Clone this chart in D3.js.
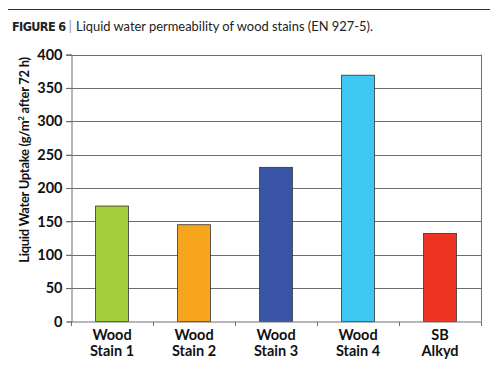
<!DOCTYPE html>
<html><head><meta charset="utf-8">
<script src="https://cdn.jsdelivr.net/npm/d3@7"></script>
<style>body{margin:0;background:#fff}svg{display:block}</style>
</head><body><svg id="c" width="500" height="375"></svg>
<script>
const categories = [["Wood","Stain 1"],["Wood","Stain 2"],["Wood","Stain 3"],["Wood","Stain 4"],["SB","Alkyd"]];
const values = [173, 145, 231, 369, 132];
const colors = ["#a5cd39","#f8a51e","#3a55a5","#3cc8f1","#ee3524"];
const yTicks = [0,50,100,150,200,250,300,350,400];

const svg = d3.select("#c");
const m = {l:71, r:481, t:54.5, b:321.5};
const x = d3.scaleBand().domain(d3.range(categories.length)).range([m.l, m.r]).paddingInner(0.6).paddingOuter(0.3);
const xb = d3.scaleBand().domain(d3.range(categories.length)).range([m.l, m.r]);
const y = d3.scaleLinear().domain([0,400]).range([m.b, m.t]);
const font = "Lato, 'Open Sans', sans-serif";

// title rule and title
svg.append("line").attr("x1",8).attr("x2",490).attr("y1",9.5).attr("y2",9.5).attr("stroke","#333").attr("stroke-width",1);
const tt = svg.append("text").attr("x",12).attr("y",31).attr("fill","#222");
tt.append("tspan").attr("font-family","'DejaVu Sans Condensed', 'DejaVu Sans', sans-serif")
  .attr("font-weight","bold").attr("font-size",12.5).attr("letter-spacing",-0.6).text("FIGURE 6");
tt.append("tspan").attr("font-family",font).attr("font-size",14).attr("fill","#999").attr("dx",3).attr("letter-spacing",0).text("|");
tt.append("tspan").attr("font-family",font).attr("font-size",13.5).attr("dx",4)
  .attr("textLength",297).attr("lengthAdjust","spacingAndGlyphs").text("Liquid water permeability of wood stains (EN 927-5).");

// gridlines
svg.append("g").selectAll("line").data(yTicks.filter(d=>d>0)).join("line")
  .attr("x1",m.l-5).attr("x2",m.r).attr("y1",d=>Math.round(y(d))+0.5).attr("y2",d=>Math.round(y(d))+0.5)
  .attr("stroke","#6e6e6e").attr("stroke-width",1);
// right border
svg.append("line").attr("x1",m.r+0.5).attr("x2",m.r+0.5).attr("y1",m.t).attr("y2",m.b).attr("stroke","#6e6e6e");

// bars
svg.append("g").selectAll("rect").data(values).join("rect")
  .attr("x",(d,i)=>x(i)).attr("width",x.bandwidth())
  .attr("y",d=>y(d)).attr("height",d=>y(0)-y(d))
  .attr("fill",(d,i)=>colors[i]).attr("stroke","#333").attr("stroke-width",0.8);

// y axis
const ya = d3.axisLeft(y).tickValues(yTicks).tickSize(5).tickPadding(4);
const gy = svg.append("g").attr("transform",`translate(${m.l+0.5},0)`).call(ya);
gy.select(".domain").attr("stroke","#6e6e6e");
gy.selectAll(".tick line").attr("stroke","#6e6e6e");
gy.selectAll("text").attr("font-family",font).attr("font-weight","bold").attr("font-size",14.5).attr("fill","#111");

// x axis
const gx = svg.append("g").attr("transform",`translate(0,${m.b+0.5})`);
gx.append("line").attr("x1",m.l).attr("x2",m.r+0.5).attr("stroke","#6e6e6e");
gx.selectAll(".tk").data(d3.range(categories.length+1)).join("line").attr("class","tk")
  .attr("x1",i=>Math.round(m.l + i*xb.step())+0.5).attr("x2",i=>Math.round(m.l + i*xb.step())+0.5)
  .attr("y1",0).attr("y2",4).attr("stroke","#6e6e6e");
const lab = gx.selectAll(".lab").data(categories).join("text").attr("class","lab")
  .attr("text-anchor","middle").attr("font-family",font).attr("font-weight","bold").attr("font-size",14.5).attr("fill","#111");
lab.each(function(d,i){
  const s = d3.select(this);
  d.forEach((line,j)=>s.append("tspan").attr("x",x(i)+x.bandwidth()/2).attr("y",18+j*15.5).text(line));
});

// y title
svg.append("text").attr("transform",`translate(29,160) rotate(-90)`)
  .attr("text-anchor","middle").attr("font-family",font).attr("font-weight","bold").attr("font-size",13).attr("fill","#111")
  .attr("letter-spacing",-0.3)
  .html("Liquid Water Uptake (g/m<tspan font-size='8' dy='-5'>2</tspan><tspan dy='5'> after 72 h)</tspan>");
</script></body></html>
